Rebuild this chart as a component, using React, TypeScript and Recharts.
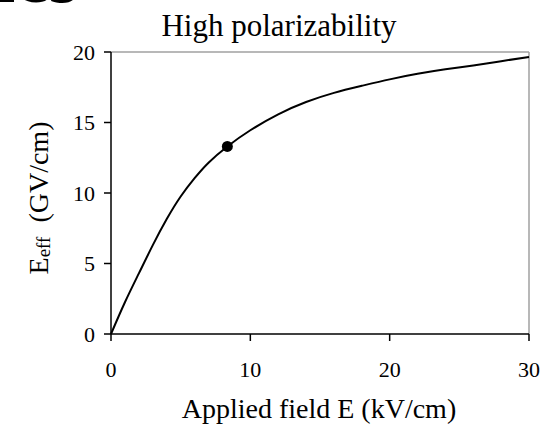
import React from 'react'
import {
  LineChart,
  Line,
  XAxis,
  YAxis,
  ReferenceLine,
  ReferenceDot,
} from 'recharts'

// applied field (kV/cm) vs effective field (GV/cm)
const fieldKV = [0, 1, 2, 3, 4, 5, 6, 7, 8.35, 10, 12, 14, 16, 18, 20, 22, 24, 26, 28, 30]
const effGV = [0, 2.25, 4.3, 6.3, 8.15, 9.75, 11.05, 12.15, 13.3, 14.45, 15.58, 16.45, 17.1, 17.6, 18.06, 18.45, 18.77, 19.05, 19.35, 19.65]

// marked operating point
const markX = 8.35
const markY = 13.3

const xTicks = [0, 10, 20, 30]
const yTicks = [0, 5, 10, 15, 20]

const FONT = '"Liberation Serif", "Times New Roman", serif'

const XTick = ({ x, y, payload }: any) => (
  <text x={x} y={y} dy={15} textAnchor="middle" fontSize={22} fontFamily={FONT} fill="#000">
    {payload.value}
  </text>
)

const YTick = ({ x, y, payload }: any) => (
  <text x={x} y={y} dy={7.5} textAnchor="end" fontSize={22} fontFamily={FONT} fill="#000">
    {payload.value}
  </text>
)

export default function App() {
  const data = fieldKV.map((x, i) => ({ x, y: effGV[i] }))

  return (
    <div
      style={{
        position: 'absolute',
        left: 0,
        top: 0,
        width: 544,
        height: 424,
        background: '#fff',
        fontFamily: FONT,
      }}
    >
      <LineChart
        width={544}
        height={424}
        data={data}
        margin={{ top: 52, right: 15, bottom: 0, left: 0 }}
      >
        <XAxis
          dataKey="x"
          type="number"
          domain={[0, 30]}
          ticks={xTicks}
          height={90}
          stroke="#000"
          strokeWidth={1.5}
          tickSize={7}
          tickMargin={21}
          tick={XTick}
        />
        <YAxis
          type="number"
          domain={[0, 20]}
          ticks={yTicks}
          width={111}
          stroke="#000"
          strokeWidth={1.5}
          tickSize={7}
          tickMargin={9}
          tick={YTick}
        />
        <ReferenceLine y={20} stroke="#a0a0a0" strokeWidth={1.5} />
        <ReferenceLine x={30} stroke="#a0a0a0" strokeWidth={1.5} />
        <Line
          type="natural"
          dataKey="y"
          stroke="#000"
          strokeWidth={2}
          dot={false}
          isAnimationActive={false}
        />
        <ReferenceDot x={markX} y={markY} r={5.5} fill="#000" stroke="none" />
      </LineChart>

      <svg
        width={544}
        height={424}
        style={{ position: 'absolute', left: 0, top: 0, pointerEvents: 'none' }}
      >
        {/* bottom of a heading cut off by the crop */}
        <text x={-6} y={2} fontSize={76} fontWeight="bold" fontFamily={FONT} fill="#000">
          ics
        </text>
        <text x={279} y={36} fontSize={31} fontFamily={FONT} textAnchor="middle" fill="#000">
          High polarizability
        </text>
        <text x={319} y={418} fontSize={28} fontFamily={FONT} textAnchor="middle" fill="#000">
          Applied field E (kV/cm)
        </text>
        <text
          x={48}
          y={198}
          fontSize={28}
          fontFamily={FONT}
          textAnchor="middle"
          fill="#000"
          transform="rotate(-90, 48, 198)"
        >
          E
          <tspan fontSize={19} dy={2}>eff</tspan>
          <tspan dy={-2}>{'\u00A0\u00A0(GV/cm)'}</tspan>
        </text>
      </svg>
    </div>
  )
}
